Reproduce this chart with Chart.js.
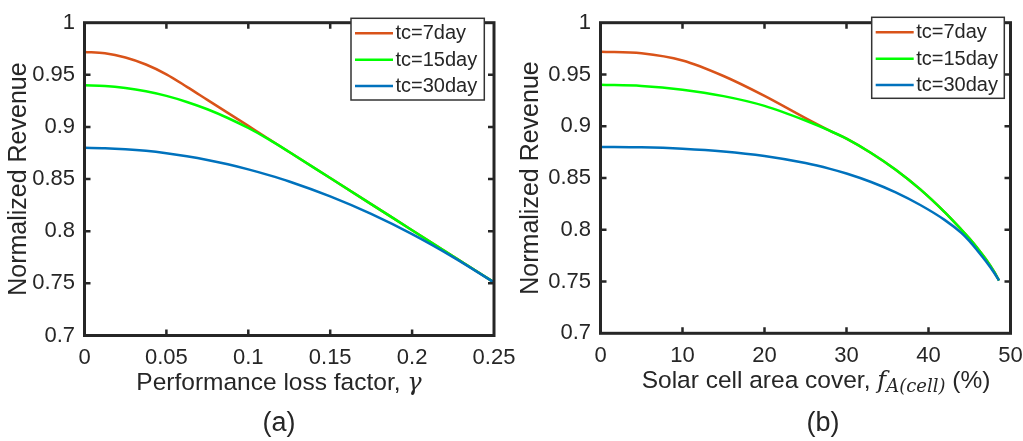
<!DOCTYPE html>
<html><head><meta charset="utf-8">
<script src="https://cdn.jsdelivr.net/npm/chart.js@4"></script>
<style>
html,body{margin:0;padding:0;background:#fff;}
body{width:1023px;height:441px;position:relative;overflow:hidden;}
#c1{position:absolute;left:0;top:0;}
#c2{position:absolute;left:500px;top:0;}
</style></head>
<body>
<canvas id="c1" width="540" height="441"></canvas>
<canvas id="c2" width="540" height="441"></canvas>
<script>
// ---------- data ----------
const seriesNames = ['tc=7day', 'tc=15day', 'tc=30day'];
const seriesColors = ['#D95319', '#00FF00', '#0072BD'];

// panel (a): performance loss factor gamma
const gammaX   = [0, 0.0125, 0.025, 0.0375, 0.05, 0.0625, 0.075, 0.0875, 0.1, 0.1125, 0.125, 0.15, 0.175, 0.2, 0.225, 0.25];
const revA_7   = [0.972, 0.9707, 0.9666, 0.9599, 0.9505, 0.9385, 0.926, 0.9135, 0.901, 0.8885, 0.876, 0.851, 0.826, 0.801, 0.776, 0.751];
const revA_15  = [0.940, 0.9394, 0.9374, 0.9342, 0.9298, 0.924, 0.917, 0.9086, 0.899, 0.8881, 0.876, 0.851, 0.826, 0.801, 0.776, 0.751];
const revA_30  = [0.880, 0.8797, 0.8787, 0.8771, 0.8748, 0.8719, 0.8684, 0.8642, 0.8593, 0.8538, 0.8477, 0.8334, 0.8166, 0.7972, 0.7752, 0.751];

// panel (b): solar cell area cover (%)
const coverX   = [0, 5, 10, 15, 20, 25, 28, 30, 33, 36, 39, 42, 44, 45, 46, 47, 48, 48.6];
const revB_7   = [0.972, 0.9705, 0.9635, 0.9485, 0.9293, 0.9078, 0.8955, 0.888, 0.8742, 0.858, 0.839, 0.8168, 0.8002, 0.7915, 0.782, 0.7715, 0.7595, 0.751];
const revB_15  = [0.940, 0.9389, 0.9353, 0.9291, 0.9197, 0.9055, 0.8955, 0.888, 0.8742, 0.858, 0.839, 0.8168, 0.8002, 0.7915, 0.782, 0.7715, 0.7595, 0.751];
const revB_30  = [0.880, 0.8796, 0.8782, 0.8756, 0.8712, 0.8644, 0.8588, 0.8543, 0.8461, 0.8361, 0.8239, 0.8093, 0.797, 0.789, 0.7795, 0.7695, 0.7585, 0.751];

// ticks
const yTicks = [0.7, 0.75, 0.8, 0.85, 0.9, 0.95, 1];
const yTickLabels = ['0.7', '0.75', '0.8', '0.85', '0.9', '0.95', '1'];
const xTicksA = [0, 0.05, 0.1, 0.15, 0.2, 0.25];
const xTickLabelsA = ['0', '0.05', '0.1', '0.15', '0.2', '0.25'];
const xTicksB = [0, 10, 20, 30, 40, 50];
const xTickLabelsB = ['0', '10', '20', '30', '40', '50'];

const yTitle = 'Normalized Revenue';

// ---------- style ----------
const FONT = '"Liberation Sans", Arial, sans-serif';
const MATH = '"DejaVu Serif", serif';
const INK = '#262626';

const decoPlugin = {
  id: 'panelDeco',
  afterDraw(chart, args, o) {
    const ctx = chart.ctx, ca = chart.chartArea;
    const xs = chart.scales.x, ys = chart.scales.y;
    ctx.save();
    // inward tick marks on all four sides
    ctx.strokeStyle = INK; ctx.lineWidth = 2.5; ctx.lineCap = 'butt';
    ctx.beginPath();
    xs.ticks.forEach(t => {
      if (t.value <= xs.min || t.value >= xs.max) return;
      const p = xs.getPixelForValue(t.value);
      ctx.moveTo(p, ca.bottom); ctx.lineTo(p, ca.bottom - 6);
      ctx.moveTo(p, ca.top); ctx.lineTo(p, ca.top + 6);
    });
    ys.ticks.forEach(t => {
      if (t.value <= ys.min || t.value >= ys.max) return;
      const p = ys.getPixelForValue(t.value);
      ctx.moveTo(ca.left, p); ctx.lineTo(ca.left + 6, p);
      ctx.moveTo(ca.right, p); ctx.lineTo(ca.right - 6, p);
    });
    ctx.stroke();
    // frame
    ctx.lineWidth = 3;
    ctx.strokeRect(ca.left, ca.top, ca.right - ca.left, ca.bottom - ca.top);

    // legend box
    const lb = o.legendBox;
    ctx.fillStyle = '#fff';
    ctx.fillRect(lb.x, lb.y, lb.w, lb.h);
    ctx.strokeStyle = '#333'; ctx.lineWidth = 1.5;
    ctx.strokeRect(lb.x, lb.y, lb.w, lb.h);
    ctx.font = '20px ' + FONT;
    ctx.textBaseline = 'middle'; ctx.textAlign = 'left';
    chart.data.datasets.forEach((ds, i) => {
      const yy = lb.y + 15 + i * 26.4;
      ctx.strokeStyle = ds.borderColor; ctx.lineWidth = 2.5;
      ctx.beginPath(); ctx.moveTo(lb.x + 4, yy); ctx.lineTo(lb.x + 42, yy); ctx.stroke();
      ctx.fillStyle = INK;
      ctx.fillText(ds.label, lb.x + 44.5, yy + 0.5);
    });

    // x-axis title with math parts
    ctx.textBaseline = 'alphabetic'; ctx.fillStyle = INK;
    let total = 0;
    o.xTitle.forEach(s => { ctx.font = s.font; s.w = ctx.measureText(s.text).width; total += s.w; });
    let x = o.xTitleCenter - total / 2;
    o.xTitle.forEach(s => { ctx.font = s.font; ctx.fillText(s.text, x, o.xTitleBase + (s.dy || 0)); x += s.w; });

    // panel label
    ctx.font = '27px ' + FONT; ctx.textAlign = 'center';
    ctx.fillText(o.panelLabel, o.panelCenter, o.panelBase);
    ctx.restore();
  }
};

function makeChart(canvasId, xs, series, xTicks, xTickLabels, xMax, area, deco, yTitlePad) {
  const W = 540, H = 441;
  const datasets = series.map((vals, i) => ({
    label: seriesNames[i],
    data: xs.map((x, j) => ({ x: x, y: vals[j] })),
    borderColor: seriesColors[i],
    backgroundColor: seriesColors[i],
    borderWidth: 2.5,
    pointRadius: 0,
    fill: false,
    cubicInterpolationMode: 'monotone',
    order: 3 - i
  }));
  return new Chart(document.getElementById(canvasId), {
    type: 'line',
    data: { datasets },
    plugins: [decoPlugin],
    options: {
      responsive: false,
      animation: false,
      devicePixelRatio: 1,
      layout: { padding: { left: 0, top: area.top, right: W - area.right, bottom: 0 } },
      plugins: {
        legend: { display: false },
        tooltip: { enabled: false },
        panelDeco: deco
      },
      scales: {
        x: {
          type: 'linear', min: 0, max: xMax,
          afterBuildTicks: s => { s.ticks = xTicks.map(v => ({ value: v })); },
          afterFit: s => { s.height = H - area.bottom; },
          ticks: {
            callback: (v, i) => xTickLabels[i],
            font: { family: FONT, size: 22 }, color: INK,
            padding: 9, maxRotation: 0, autoSkip: false
          },
          grid: { display: false, drawTicks: false },
          border: { display: false }
        },
        y: {
          type: 'linear', min: 0.7, max: 1,
          afterBuildTicks: s => { s.ticks = yTicks.map(v => ({ value: v })); },
          afterFit: s => { s.width = area.left; },
          ticks: {
            callback: (v, i) => yTickLabels[i],
            font: { family: FONT, size: 22 }, color: INK,
            padding: 9.5, autoSkip: false
          },
          title: {
            display: true, text: yTitle, color: INK,
            font: { family: FONT, size: 25 },
            padding: { top: yTitlePad, bottom: 0 }
          },
          grid: { display: false, drawTicks: false },
          border: { display: false }
        }
      }
    }
  });
}

makeChart('c1', gammaX, [revA_7, revA_15, revA_30], xTicksA, xTickLabelsA, 0.25,
  { left: 84.5, top: 12.8, right: 494, bottom: 335.5 },
  {
    legendBox: { x: 351, y: 18.3, w: 133.3, h: 81.7 },
    xTitle: [
      { text: 'Performance loss factor, ', font: '24.5px ' + FONT },
      { text: 'γ', font: 'italic 24px ' + MATH }
    ],
    xTitleCenter: 279, xTitleBase: 389.5,
    panelLabel: '(a)', panelCenter: 279, panelBase: 431
  }, 4);

makeChart('c2', coverX, [revB_7, revB_15, revB_30], xTicksB, xTickLabelsB, 50,
  { left: 100.5, top: 11.5, right: 510.5, bottom: 333.3 },
  {
    legendBox: { x: 371.7, y: 17.3, w: 132.6, h: 81 },
    xTitle: [
      { text: 'Solar cell area cover, ', font: '24.5px ' + FONT },
      { text: 'f', font: 'italic 24px ' + MATH },
      { text: 'A(cell)', font: 'italic 18px ' + MATH, dy: 4 },
      { text: ' (%)', font: '24.5px ' + FONT }
    ],
    xTitleCenter: 316, xTitleBase: 388,
    panelLabel: '(b)', panelCenter: 323, panelBase: 431
  }, 16);
</script>
</body></html>
